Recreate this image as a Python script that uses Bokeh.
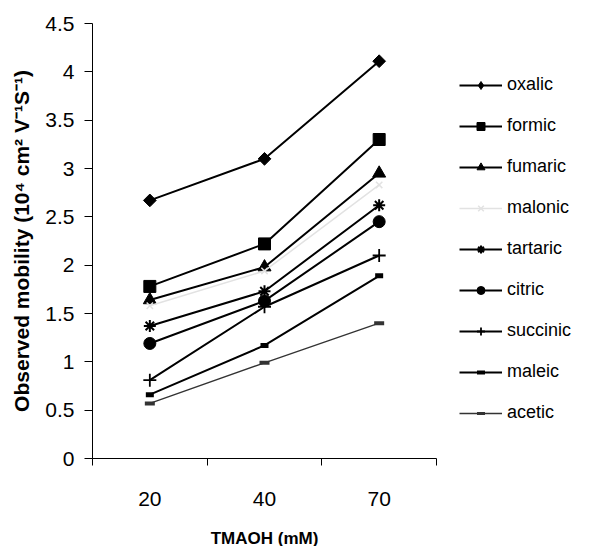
import math
from bokeh.plotting import figure
from bokeh.models import Range1d, FixedTicker, Legend, LegendItem
from bokeh.embed import file_html
from bokeh.resources import INLINE

categories = ["20", "40", "70"]
oxalic = [2.67, 3.10, 4.11]
formic = [1.78, 2.22, 3.30]
fumaric = [1.64, 1.98, 2.95]
malonic = [1.58, 1.94, 2.83]
tartaric = [1.37, 1.73, 2.62]
citric = [1.19, 1.63, 2.45]
succinic = [0.81, 1.57, 2.10]
maleic = [0.66, 1.17, 1.89]
acetic = [0.57, 0.99, 1.40]
y_ticks = [0, 0.5, 1, 1.5, 2, 2.5, 3, 3.5, 4, 4.5]

xs = [i + 0.5 for i in range(len(categories))]
NAN = float("nan")

p = figure(frame_width=344, frame_height=435, output_backend="svg", toolbar_location=None,
           x_range=Range1d(0, len(categories)), y_range=Range1d(0, 4.5),
           min_border_left=92, min_border_top=23, min_border_bottom=88,
           min_border_right=158)
p.outline_line_color = None
p.xgrid.grid_line_color = None
p.ygrid.grid_line_color = None
p.background_fill_color = "white"
p.border_fill_color = "white"

FONT = "Liberation Sans"

# x axis
p.xaxis.ticker = FixedTicker(ticks=xs, minor_ticks=list(range(len(categories) + 1)))
p.xaxis.major_label_overrides = {x: c for x, c in zip(xs, categories)}
p.xaxis.major_tick_out = 0
p.xaxis.major_tick_in = 0
p.xaxis.minor_tick_out = 7
p.xaxis.minor_tick_in = 0
p.xaxis.major_label_standoff = 26
p.xaxis.axis_label = "TMAOH (mM)"
p.xaxis.axis_label_standoff = 20

# y axis
p.yaxis.ticker = FixedTicker(ticks=y_ticks)
p.yaxis.major_label_overrides = {0: "0", 1: "1", 2: "2", 3: "3", 4: "4"}
p.yaxis.major_tick_out = 8
p.yaxis.major_tick_in = 0
p.yaxis.minor_tick_out = 0
p.yaxis.minor_tick_in = 0
p.yaxis.major_label_standoff = 10
p.yaxis.axis_label = "Observed mobility (10\u2074 cm\u00b2 V\u207b\u00b9S\u207b\u00b9)"
p.yaxis.axis_label_standoff = 9

for ax in (p.xaxis, p.yaxis):
    ax.axis_line_color = "black"
    ax.axis_line_width = 1
    ax.major_tick_line_color = "black"
    ax.minor_tick_line_color = "black"
    ax.major_label_text_font = FONT
    ax.major_label_text_font_size = "21px"
    ax.major_label_text_color = "black"
    ax.axis_label_text_font = FONT
    ax.axis_label_text_font_style = "bold"
    ax.axis_label_text_color = "black"
p.xaxis.axis_label_text_font_size = "17px"
p.yaxis.axis_label_text_font_size = "21px"

MAL = "#e2e2e2"
# name, values, plot marker, legend marker, plot size, legend size, color, line width, marker line width, angle
series = [
    ("oxalic", oxalic, "square", "diamond", 9, 10, "black", 2, 1, math.pi / 4),
    ("formic", formic, "square", "square", 12, 8, "black", 2, 1, 0),
    ("fumaric", fumaric, "triangle", "triangle", 13, 9, "black", 2, 1, 0),
    ("malonic", malonic, "x", "x", 9, 6, MAL, 1.5, 1.5, 0),
    ("tartaric", tartaric, "asterisk", "asterisk", 12, 9, "black", 2, 2, 0),
    ("citric", citric, "circle", "circle", 12, 8, "black", 2, 1, 0),
    ("succinic", succinic, "cross", "cross", 13, 10, "black", 2, 1.8, 0),
    ("maleic", maleic, "dash", "dash", 8, 7, "black", 2, 5, 0),
    ("acetic", acetic, "dash", "dash", 10, 9, "#333333", 1.3, 4, 0),
]

LINE_MARKERS = ("x", "asterisk", "cross", "dash")
items = []
for name, vals, marker, lmarker, size, lsize, color, lw, mlw, ang in series:
    p.line(xs, vals, line_color=color, line_width=lw)
    if marker in LINE_MARKERS:
        p.scatter(xs, vals, marker=marker, size=size, line_color=color, line_width=mlw)
    else:
        p.scatter(xs, vals, marker=marker, size=size, angle=ang,
                  fill_color=color, line_color=color)
    # legend-only renderers (not drawn in the frame) with smaller markers
    l1 = p.line([NAN, NAN], [NAN, NAN], line_color=color, line_width=lw)
    if lmarker in LINE_MARKERS:
        l2 = p.scatter([NAN], [NAN], marker=lmarker, size=lsize, line_color=color,
                       line_width=mlw if lmarker != "dash" else mlw - 1)
    else:
        l2 = p.scatter([NAN], [NAN], marker=lmarker, size=lsize,
                       fill_color=color, line_color=color)
    items.append(LegendItem(label=name, renderers=[l1, l2]))

legend = Legend(items=items, location=(23, 35), orientation="vertical")
legend.border_line_color = None
legend.background_fill_alpha = 0
legend.label_text_font = FONT
legend.label_text_font_size = "18px"
legend.label_text_color = "black"
legend.glyph_width = 43
legend.glyph_height = 20
legend.label_height = 20
legend.spacing = 20
legend.padding = 10
legend.margin = 0
legend.label_standoff = 5
p.add_layout(legend, "right")

open("out.html", "w").write(file_html(p, INLINE))
